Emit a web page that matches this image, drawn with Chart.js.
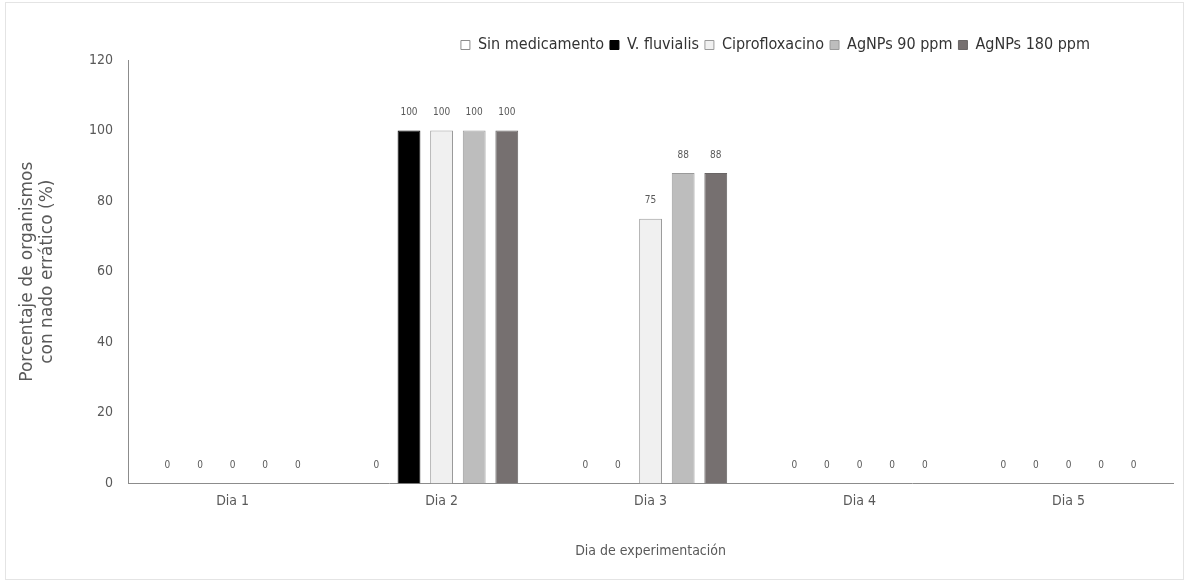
<!DOCTYPE html>
<html>
<head>
<meta charset="utf-8">
<script src="https://cdn.jsdelivr.net/npm/chart.js@4/dist/chart.umd.min.js"></script>
<style>
  body { margin: 0; background: #fff; }
  #wrap { position: relative; width: 1187px; height: 582px; }
</style>
</head>
<body>
<div id="wrap"><canvas id="myChart"></canvas></div>
<script>
const dias = ["Dia 1", "Dia 2", "Dia 3", "Dia 4", "Dia 5"];
const sinMedicamento = [0, 0, 0, 0, 0];
const vFluvialis = [0, 100, 0, 0, 0];
const ciprofloxacino = [0, 100, 75, 0, 0];
const agnps90 = [0, 100, 88, 0, 0];
const agnps180 = [0, 100, 88, 0, 0];
const yTicks = [0, 20, 40, 60, 80, 100, 120];

const narrow = "'Liberation Sans Narrow', 'DejaVu Sans Condensed', sans-serif";

function serie(label, data, fill, border) {
  return {
    label: label,
    data: data,
    backgroundColor: fill,
    borderColor: border,
    borderWidth: 1,
    categoryPercentage: 0.78,
    barPercentage: 0.7
  };
}

// etiquetas de valor encima de cada barra
const valueLabels = {
  id: "valueLabels",
  afterDatasetsDraw(chart) {
    const ctx = chart.ctx;
    ctx.save();
    ctx.font = "10px " + narrow;
    ctx.fillStyle = "#595959";
    ctx.textAlign = "center";
    ctx.textBaseline = "middle";
    chart.data.datasets.forEach((ds, i) => {
      chart.getDatasetMeta(i).data.forEach((bar, j) => {
        ctx.fillText(ds.data[j], bar.x, bar.y - 18);
      });
    });
    ctx.restore();
  }
};

// mover la leyenda y dibujar el marco claro
const extras = {
  id: "extras",
  afterLayout(chart) {
    chart.legend.right = 1096;
    chart.legend.top += 3;
  },
  beforeDraw(chart) {
    const ctx = chart.ctx;
    ctx.save();
    ctx.strokeStyle = "#e4e4e4";
    ctx.lineWidth = 1;
    ctx.strokeRect(5.5, 2.5, 1178, 577);
    ctx.restore();
  }
};

new Chart(document.getElementById("myChart").getContext("2d"), {
  type: "bar",
  data: {
    labels: dias,
    datasets: [
      serie("Sin medicamento", sinMedicamento, "#ffffff", "#8c8c8c"),
      serie("V. fluvialis", vFluvialis, "#000000", "#000000"),
      serie("Ciprofloxacino", ciprofloxacino, "#f0f0f0", "#9a9a9a"),
      serie("AgNPs 90 ppm", agnps90, "#bdbdbd", "#9a9a9a"),
      serie("AgNPs 180 ppm", agnps180, "#767070", "#6a6666")
    ]
  },
  options: {
    responsive: true,
    maintainAspectRatio: false,
    animation: false,
    layout: { padding: { left: 8, right: 14, top: 28, bottom: 18 } },
    plugins: {
      legend: {
        position: "top",
        align: "end",
        labels: {
          boxWidth: 9,
          boxHeight: 9,
          padding: 6,
          color: "#333333",
          font: { family: narrow, size: 16 }
        }
      },
      tooltip: { enabled: false }
    },
    scales: {
      x: {
        grid: { display: false, drawTicks: false },
        border: { color: "#8c8c8c", width: 1 },
        ticks: { color: "#595959", padding: 10, font: { family: narrow, size: 14 } },
        title: {
          display: true,
          text: "Dia de experimentación",
          color: "#595959",
          padding: { top: 23 },
          font: { family: narrow, size: 14 }
        }
      },
      y: {
        min: 0,
        max: 120,
        afterBuildTicks(axis) { axis.ticks = yTicks.map(v => ({ value: v })); },
        grid: { display: false, drawTicks: false },
        border: { color: "#8c8c8c", width: 1 },
        ticks: { color: "#595959", padding: 15, font: { family: narrow, size: 14 } },
        title: {
          display: true,
          text: ["Porcentaje de organismos", "con nado errático (%)"],
          color: "#595959",
          padding: { top: 10, bottom: 17 },
          font: { family: "'DejaVu Sans', sans-serif", size: 17, lineHeight: 1.15 }
        }
      }
    }
  },
  plugins: [valueLabels, extras]
});
</script>
</body>
</html>
